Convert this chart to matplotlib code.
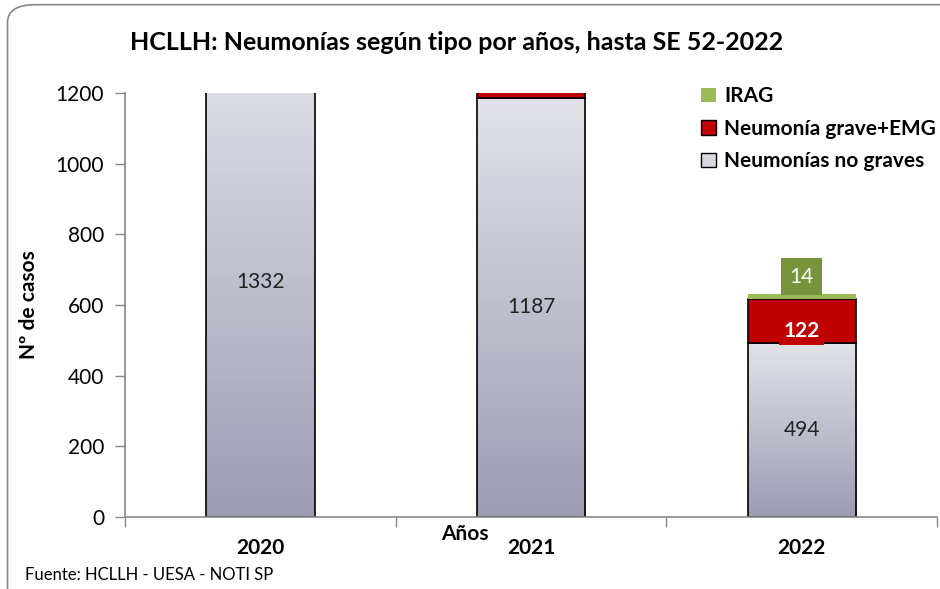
import numpy as np
import matplotlib
matplotlib.use('Agg')
import matplotlib.pyplot as plt
import matplotlib.patches as mpatches
from matplotlib.patches import FancyBboxPatch

plt.rcParams['font.family'] = ['Lato', 'DejaVu Sans']

## Data
years = ['2020', '2021', '2022']
no_graves = [1332, 1187, 494]
graves_emg = [0, 40, 122]
irag = [0, 0, 14]
series_names = ['IRAG', 'Neumonía grave+EMG', 'Neumonías no graves']

fig = plt.figure(figsize=(9.4, 5.89), dpi=100)
ax = fig.add_axes([0.133, 0.122, 0.864, 0.720])

## rounded frame round the whole chart
frame = FancyBboxPatch((0.008, -0.05), 1.2, 1.042, boxstyle='round,pad=0,rounding_size=0.03',
					   transform=fig.transFigure, facecolor='none', edgecolor='#888888', linewidth=1.2)
fig.patches.append(frame)

ind = np.arange(len(years))
width = 0.4
grad = np.linspace(0, 1, 256).reshape(-1, 1)
cmap = matplotlib.colors.LinearSegmentedColormap.from_list('g', ['#9b9cb4', '#e2e2e8'])

for i in ind:
	# gradient for the non severe part
	im = ax.imshow(grad, extent=[i - width / 2, i + width / 2, 0, no_graves[i]], origin='lower',
				   aspect='auto', cmap=cmap, zorder=2)
	rect = mpatches.Rectangle((i - width / 2, 0), width, no_graves[i], facecolor='none',
							  edgecolor='black', linewidth=1.2, zorder=3)
	ax.add_patch(rect)
	im.set_clip_path(rect)
	im.set_clip_box(ax.bbox)
	if graves_emg[i] > 0:
		ax.bar(i, graves_emg[i], width, bottom=no_graves[i], color='#c00000',
			   edgecolor='black', linewidth=1.2, zorder=3)
	if irag[i] > 0:
		ax.bar(i, irag[i], width, bottom=no_graves[i] + graves_emg[i], color='#9bbb59',
			   edgecolor='none', zorder=3)

## value labels
for i in ind:
	ax.text(i, no_graves[i] / 2.0, str(no_graves[i]), ha='center', va='center', fontsize=15,
			color='#222222', zorder=5)
ax.text(2, no_graves[2] + graves_emg[2] / 2.0 - 28, str(graves_emg[2]), ha='center', va='center',
		fontsize=15, fontweight='bold', color='white', zorder=5,
		bbox=dict(boxstyle='square,pad=0.2', facecolor='#c00000', edgecolor='none'))
ax.text(2, no_graves[2] + graves_emg[2] + irag[2] + 50, str(irag[2]), ha='center', va='center',
		fontsize=15, color='white', zorder=5,
		bbox=dict(boxstyle='square,pad=0.4', facecolor='#77933c', edgecolor='none'))

ax.set_xlim(-0.5, 2.5)
ax.set_ylim(0, 1200)
ax.set_yticks(range(0, 1201, 200))
ax.set_yticklabels([str(v) for v in range(0, 1201, 200)], fontsize=15)
ax.set_xticks([-0.5, 0.5, 1.5, 2.5])
ax.set_xticklabels([])
ax.tick_params(axis='both', direction='out', length=7, color='#888888', width=1)
ax.tick_params(axis='y', pad=8)
for s in ['top', 'right']:
	ax.spines[s].set_visible(False)
for s in ['left', 'bottom']:
	ax.spines[s].set_color('#888888')
	ax.spines[s].set_linewidth(1.2)
	ax.spines[s].set_zorder(4)

for i in ind:
	ax.text(i, -0.072, years[i], transform=ax.get_xaxis_transform(), ha='center', va='center',
			fontsize=15, fontweight='bold')

ax.set_ylabel('Nº de casos', fontsize=15, fontweight='bold')
ax.yaxis.set_label_coords(-0.106, 0.5)
fig.text(0.494, 0.094, 'Años', ha='center', va='center', fontsize=15, fontweight='bold')
fig.text(0.486, 0.928, 'HCLLH: Neumonías según tipo por años, hasta SE 52-2022', ha='center',
		 va='center', fontsize=18, fontweight='bold')
fig.text(0.027, 0.024, 'Fuente: HCLLH - UESA - NOTI SP', ha='left', va='center', fontsize=12)

## legend
patches = [mpatches.Patch(facecolor='#9bbb59', edgecolor='none'),
		   mpatches.Patch(facecolor='#c00000', edgecolor='black'),
		   mpatches.Patch(facecolor='#d8d8e0', edgecolor='black')]
leg = fig.legend(patches, series_names, loc='upper left', bbox_to_anchor=(0.726, 0.885),
				 frameon=False, prop={'weight': 'bold', 'size': 15}, handlelength=0.7,
				 handleheight=0.7, handletextpad=0.4, labelspacing=0.6)

fig.savefig('out.png', dpi=100)
